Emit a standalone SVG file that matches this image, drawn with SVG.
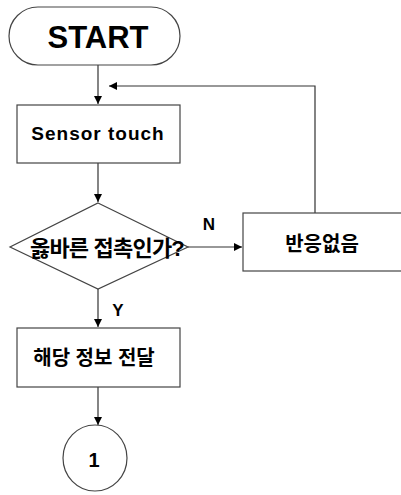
<svg xmlns="http://www.w3.org/2000/svg" width="401" height="495" viewBox="0 0 401 495">
<style>
.s{fill:#fff;stroke:#444;stroke-width:1.2}
.c{fill:none;stroke:#333;stroke-width:1.2}
.t{font-family:"Liberation Sans","Noto Sans CJK KR",Arial,sans-serif;font-weight:bold;fill:#000;text-anchor:middle}
</style>
<defs>
<marker id="ah" viewBox="0 0 10 10" refX="10" refY="5" markerWidth="8" markerHeight="8" markerUnits="userSpaceOnUse" orient="auto">
<path d="M0,0 L10,5 L0,10 z" fill="#000"/>
</marker>
</defs>
<g id="connectors">
<line class="c" x1="98" y1="65" x2="98" y2="104" marker-end="url(#ah)"/>
<line class="c" x1="98" y1="163" x2="98" y2="202" marker-end="url(#ah)"/>
<line class="c" x1="188" y1="247" x2="242" y2="247" marker-end="url(#ah)"/>
<polyline class="c" points="315,213 315,86 109,86" marker-end="url(#ah)"/>
<line class="c" x1="98" y1="289" x2="98" y2="327" marker-end="url(#ah)"/>
<line class="c" x1="98" y1="387" x2="98" y2="425" marker-end="url(#ah)"/>
<text class="t" x="209" y="230" font-size="17">N</text>
<text class="t" x="118" y="316" font-size="17">Y</text>
</g>
<g id="start">
<rect class="s" x="9" y="7" width="171" height="58" rx="29" ry="29"/>
<text class="t" x="98" y="48" font-size="31">START</text>
</g>
<g id="sensor">
<rect class="s" x="17" y="105" width="163" height="58"/>
<text class="t" x="98" y="140" font-size="19" letter-spacing="1">Sensor touch</text>
</g>
<g id="decision">
<polygon class="s" points="98,203 188,247 98,289 10,247"/>
<text class="t" x="107" y="256" font-size="22" letter-spacing="-0.8">옳바른 접촉인가?</text>
</g>
<g id="noreact">
<rect class="s" x="243" y="213" width="170" height="58"/>
<text class="t" x="322" y="251" font-size="20">반응없음</text>
</g>
<g id="deliver">
<rect class="s" x="17" y="328" width="163" height="59"/>
<text class="t" x="94" y="365" font-size="20">해당 정보 전달</text>
</g>
<g id="connector1">
<ellipse class="s" cx="95" cy="458" rx="32" ry="33"/>
<text class="t" x="94" y="467" font-size="20">1</text>
</g>
</svg>
